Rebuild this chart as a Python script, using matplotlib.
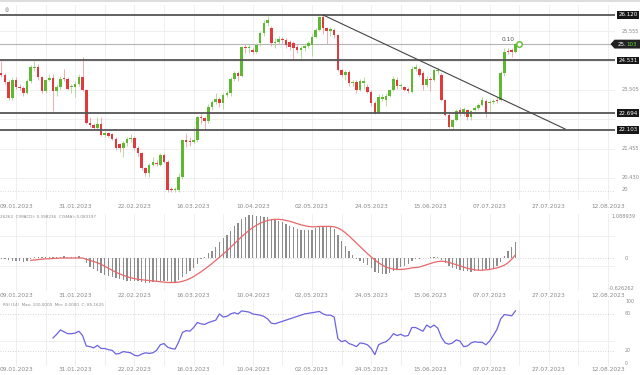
import numpy as np
import pandas as pd
import matplotlib
matplotlib.use('Agg')
import matplotlib.pyplot as plt
from matplotlib.lines import Line2D
from matplotlib.patches import Polygon
import matplotlib.transforms as mtransforms

# trading days shown (weekdays, Good Friday skipped)
dates = pd.bdate_range('2023-01-03', '2023-07-18').drop(pd.Timestamp('2023-04-07'))

opens = [24.10, 24.02, 23.78, 23.21, 23.85, 23.62, 23.58, 23.40, 23.80, 24.28,
         24.30, 23.95, 23.45, 23.85, 23.92, 23.45, 23.62, 23.92, 23.88, 23.60,
         23.62, 23.72, 23.97, 23.50, 22.35, 22.28, 22.17, 22.30, 21.93, 22.00,
         21.95, 21.80, 21.60, 21.47, 21.65, 21.80, 21.82, 21.46, 21.29, 20.76,
         20.59, 20.88, 20.95, 20.88, 21.23, 21.00, 20.05, 20.00, 20.01, 20.47,
         21.75, 21.72, 21.70, 21.75, 22.57, 22.51, 22.40, 22.92, 23.09, 23.17,
         23.04, 23.33, 23.38, 23.87, 24.08, 23.99, 25.00, 24.96, 24.90, 24.84,
         25.13, 25.48, 25.83, 25.65, 25.13, 25.18, 25.27, 25.25, 25.18, 25.13,
         25.01, 24.90, 24.96, 25.04, 25.07, 25.36, 25.60, 26.06, 25.65, 25.57,
         25.60, 25.42, 24.20, 24.03, 24.14, 23.73, 23.79, 23.50, 23.75, 23.62,
         23.44, 23.04, 22.70, 23.20, 23.15, 23.30, 23.50, 23.85, 23.64, 23.60,
         23.52, 23.44, 24.25, 24.25, 24.08, 23.67, 23.90, 23.85, 24.15, 24.03,
         23.15, 22.63, 22.22, 22.45, 22.80, 22.69, 22.80, 22.57, 22.80, 22.86,
         22.98, 23.10, 23.05, 23.09, 23.15, 23.15, 24.08, 24.87, 24.90, 24.84]
highs = [24.52, 24.10, 23.85, 23.95, 23.95, 23.72, 23.65, 23.90, 24.38, 24.53,
         24.40, 24.00, 23.90, 24.05, 24.05, 23.70, 23.98, 24.25, 23.95, 23.70,
         23.80, 24.05, 24.65, 23.55, 22.55, 22.35, 22.55, 22.55, 22.10, 22.05,
         22.00, 21.85, 21.65, 21.72, 21.85, 21.95, 21.90, 21.55, 21.32, 20.80,
         20.95, 21.15, 21.05, 21.30, 21.30, 21.05, 20.10, 20.10, 20.60, 21.80,
         22.00, 21.85, 22.20, 22.60, 22.65, 22.55, 23.00, 23.15, 23.40, 23.25,
         23.40, 23.45, 23.95, 24.15, 24.15, 25.05, 25.10, 25.10, 25.00, 25.13,
         25.55, 25.95, 26.10, 25.75, 25.30, 25.40, 25.35, 25.30, 25.25, 25.20,
         25.10, 25.05, 25.10, 25.20, 25.45, 25.65, 26.10, 26.15, 25.70, 25.70,
         25.65, 25.45, 24.25, 24.20, 24.20, 23.85, 23.85, 23.90, 23.95, 23.70,
         23.50, 23.10, 23.35, 23.35, 23.40, 23.55, 24.00, 23.95, 23.75, 23.65,
         23.60, 24.35, 24.40, 24.30, 24.15, 24.00, 23.95, 24.25, 24.30, 24.10,
         23.20, 22.70, 22.50, 22.85, 22.90, 22.90, 22.85, 22.80, 22.95, 23.05,
         23.25, 23.20, 23.15, 23.20, 23.25, 24.15, 24.95, 24.95, 24.95, 25.15]
lows = [23.95, 23.70, 23.15, 23.15, 23.55, 23.50, 23.30, 23.35, 23.75, 24.15,
        23.85, 23.40, 23.40, 23.80, 22.75, 23.30, 23.55, 23.80, 23.50, 23.40,
        23.25, 23.65, 23.45, 22.30, 22.20, 22.10, 22.10, 21.90, 21.85, 21.85,
        21.75, 21.40, 21.35, 21.17, 21.55, 21.70, 21.40, 21.20, 20.70, 20.50,
        20.45, 20.85, 20.85, 20.85, 20.95, 19.95, 19.92, 19.95, 19.95, 20.40,
        21.50, 21.55, 21.65, 21.70, 22.30, 22.15, 22.35, 22.80, 23.00, 22.90,
        22.85, 23.25, 23.30, 23.80, 23.80, 23.95, 24.80, 24.80, 24.75, 24.80,
        25.05, 25.40, 25.75, 25.05, 24.95, 25.10, 25.10, 24.95, 24.90, 24.55,
        24.80, 24.60, 24.85, 24.95, 24.70, 25.30, 25.55, 25.45, 25.10, 25.40,
        25.30, 24.15, 23.95, 23.85, 23.65, 23.65, 23.40, 23.45, 23.55, 23.38,
        22.95, 22.65, 22.68, 23.10, 22.95, 23.25, 23.45, 23.55, 23.55, 23.45,
        23.40, 23.40, 24.15, 23.95, 23.50, 23.60, 23.45, 23.80, 24.05, 23.10,
        22.60, 22.18, 22.10, 22.40, 22.60, 22.60, 22.45, 22.45, 22.75, 22.80,
        22.95, 22.55, 22.75, 23.00, 23.05, 23.10, 24.00, 24.75, 24.65, 24.80]
closes = [24.02, 23.78, 23.21, 23.85, 23.62, 23.57, 23.40, 23.80, 24.30, 24.30,
          23.95, 23.45, 23.85, 23.92, 23.45, 23.62, 23.90, 23.88, 23.55, 23.62,
          23.72, 23.97, 23.50, 22.35, 22.28, 22.17, 22.30, 21.93, 21.99, 21.90,
          21.80, 21.47, 21.47, 21.65, 21.80, 21.82, 21.46, 21.29, 20.76, 20.59,
          20.88, 21.00, 20.92, 21.23, 21.00, 20.01, 20.00, 20.02, 20.47, 21.75,
          21.70, 21.70, 21.75, 22.55, 22.51, 22.40, 22.92, 23.09, 23.17, 23.04,
          23.33, 23.38, 23.87, 24.08, 23.99, 24.99, 24.96, 25.00, 24.84, 25.07,
          25.48, 25.85, 25.95, 25.13, 25.18, 25.27, 25.25, 25.07, 25.01, 24.96,
          24.90, 24.96, 25.04, 25.13, 25.36, 25.60, 26.06, 25.65, 25.57, 25.62,
          25.42, 24.20, 24.03, 24.14, 23.73, 23.79, 23.50, 23.83, 23.80, 23.44,
          23.04, 22.70, 23.27, 23.27, 23.30, 23.50, 23.90, 23.64, 23.67, 23.50,
          23.48, 24.25, 24.30, 24.02, 23.67, 23.90, 23.85, 24.20, 24.20, 23.15,
          22.63, 22.22, 22.45, 22.75, 22.69, 22.83, 22.57, 22.75, 22.86, 22.98,
          23.15, 22.70, 23.09, 23.12, 23.12, 24.08, 24.84, 24.84, 24.84, 25.10]

macd = [-0.02, -0.03, -0.06, -0.07, -0.07, -0.08, -0.09, -0.08, -0.03, 0.02,
        0.03, 0.02, 0.02, 0.03, 0.02, 0.02, 0.03, 0.04, 0.03, 0.02,
        0.03, 0.04, 0.01, -0.12, -0.22, -0.29, -0.34, -0.38, -0.42, -0.45,
        -0.48, -0.51, -0.54, -0.55, -0.57, -0.58, -0.58, -0.59, -0.61, -0.62,
        -0.62, -0.61, -0.59, -0.58, -0.57, -0.59, -0.62, -0.63, -0.55, -0.47,
        -0.40, -0.34, -0.26, -0.15, -0.03, 0.03, 0.12, 0.19, 0.28, 0.40,
        0.50, 0.58, 0.68, 0.80, 0.88, 1.00, 1.05, 1.08, 1.09, 1.07,
        1.06, 1.05, 1.04, 1.00, 0.96, 0.93, 0.90, 0.86, 0.82, 0.78,
        0.74, 0.72, 0.70, 0.70, 0.72, 0.76, 0.82, 0.82, 0.80, 0.78,
        0.74, 0.58, 0.42, 0.30, 0.18, 0.08, -0.02, -0.08, -0.12, -0.18,
        -0.26, -0.36, -0.38, -0.40, -0.40, -0.38, -0.33, -0.28, -0.24, -0.20,
        -0.16, -0.08, -0.03, -0.02, -0.01, 0.01, 0.02, 0.02, 0.03, -0.05,
        -0.12, -0.21, -0.25, -0.29, -0.31, -0.33, -0.34, -0.36, -0.32, -0.31,
        -0.31, -0.29, -0.28, -0.25, -0.19, -0.10, 0.06, 0.17, 0.27, 0.40]
signal = [np.nan] * 8 + [
        -0.06, -0.05, -0.04, -0.03, -0.02, -0.02, -0.01, -0.01, 0.00, 0.00,
        0.00, 0.00, 0.00, 0.00, 0.00, -0.03, -0.06, -0.09, -0.12, -0.16,
        -0.21, -0.26, -0.31, -0.36, -0.40, -0.44, -0.47, -0.50, -0.52, -0.54,
        -0.55, -0.56, -0.57, -0.58, -0.59, -0.60, -0.61, -0.62, -0.62, -0.62,
        -0.61, -0.59, -0.56, -0.52, -0.47, -0.41, -0.35, -0.28, -0.21, -0.14,
        -0.06, 0.02, 0.10, 0.18, 0.27, 0.36, 0.45, 0.54, 0.62, 0.70,
        0.77, 0.83, 0.88, 0.92, 0.95, 0.97, 0.98, 0.98, 0.97, 0.95,
        0.93, 0.90, 0.87, 0.84, 0.82, 0.80, 0.79, 0.79, 0.80, 0.80,
        0.80, 0.80, 0.79, 0.76, 0.71, 0.64, 0.56, 0.47, 0.38, 0.29,
        0.20, 0.11, 0.03, -0.05, -0.12, -0.18, -0.23, -0.26, -0.28, -0.29,
        -0.29, -0.28, -0.27, -0.25, -0.24, -0.23, -0.20, -0.17, -0.14, -0.11,
        -0.09, -0.08, -0.09, -0.11, -0.14, -0.17, -0.20, -0.23, -0.26, -0.28,
        -0.30, -0.31, -0.31, -0.30, -0.29, -0.27, -0.25, -0.22, -0.18, -0.12,
        -0.03, 0.08]
rsi = [np.nan] * 14 + [
        41, 47, 54, 51, 48, 48, 49, 52, 45, 28,
        27, 25, 29, 24, 24, 22, 21, 15, 16, 19,
        18, 17, 13, 12, 15, 17, 16, 17, 21, 30,
        32, 26, 24, 23, 35, 50, 53, 52, 58, 66,
        64, 63, 66, 68, 70, 80, 75, 76, 80, 82,
        80, 85, 84, 83, 80, 79, 78, 76, 72, 65,
        64, 66, 68, 70, 72, 74, 76, 78, 80, 81,
        82, 83, 84, 80, 78, 78, 75, 40, 35, 37,
        32, 30, 27, 33, 32, 30, 24, 14, 30, 33,
        35, 40, 48, 45, 47, 44, 45, 58, 58, 55,
        52, 62, 58, 62, 57, 42, 33, 31, 33, 38,
        36, 27, 28, 33, 35, 34, 34, 30, 36, 45,
        55, 72, 79, 78, 77, 85]

levels = [26.120, 24.531, 22.694, 22.103]
price_ticks = [25.555, 23.505, 21.455, 20.430]
price_grid = [25.555, 24.530, 23.505, 22.480, 21.455, 20.430]
last_price = 25.103
tick_labels = ['09.01.2023', '31.01.2023', '22.02.2023', '16.03.2023', '10.04.2023',
               '02.05.2023', '24.05.2023', '15.06.2023', '07.07.2023', '27.07.2023',
               '12.08.2023']
trend_start = (87, 26.12)
trend_end = (152.4, 22.14)

GREEN = '#5fb832'
RED = '#e0393e'
GRID = '#ececec'
TXT = '#8a8a8a'
FS = 4.2

n = len(closes)
x = np.arange(n)
tick_pos = [list(dates).index(pd.Timestamp('2023-01-09')) + 16 * k for k in range(len(tick_labels))]
xmin, xmax = -0.32, 165.9
AXW = 615.0  # axes width in pixels

fig = plt.figure(figsize=(6.4, 3.75), dpi=100)
ax = fig.add_axes([0, 1 - 200 / 375, AXW / 640, 195 / 375])
ax_m = fig.add_axes([0, 1 - 291 / 375, AXW / 640, 77 / 375])
ax_r = fig.add_axes([0, 1 - 366 / 375, AXW / 640, 66 / 375])


def px(p):
    # pixel x (from figure left) -> axes fraction
    return p / AXW


for a, pad in ((ax, 3.0), (ax_m, 1.2), (ax_r, 0.6)):
    a.set_xlim(xmin, xmax)
    for s in a.spines.values():
        s.set_visible(False)
    a.set_yticks([])
    a.set_xticks(tick_pos)
    a.set_xticklabels(tick_labels)
    a.tick_params(axis='x', length=0, labelsize=FS, labelcolor=TXT, pad=pad)
    for k in range(-1, 21):
        a.axvline(tick_pos[0] + 8 * k, color=GRID, lw=0.6, zorder=0)

# ---- price panel
ax.set_ylim(19.658, 26.469)
for g in price_grid:
    ax.axhline(g, color=GRID, lw=0.6, zorder=0)
ax.axhline(19.97, color='#cfcfcf', lw=0.6, ls=(0, (1, 2)), zorder=0)

o = np.array(opens); c = np.array(closes); h = np.array(highs); l = np.array(lows)
up = c >= o
ax.vlines(x[up], l[up], h[up], color='#a8d88c', lw=0.6, zorder=2)
ax.vlines(x[~up], l[~up], h[~up], color='#f0a0a2', lw=0.6, zorder=2)
body = np.maximum(np.abs(c - o), 0.03)
ax.bar(x[up], body[up], bottom=np.minimum(o, c)[up], width=0.7, color=GREEN, lw=0, zorder=3)
ax.bar(x[~up], body[~up], bottom=np.minimum(o, c)[~up], width=0.7, color=RED, lw=0, zorder=3)

for lv in levels:
    ax.axhline(lv, color='#555555', lw=1.3, zorder=4)
ax.axhline(last_price, color='#b5b5b5', lw=0.8, zorder=1)
ax.plot([trend_start[0], trend_end[0]], [trend_start[1], trend_end[1]], color='#444444', lw=0.8, zorder=5)
ax.plot(n - 0.1, last_price, 'o', ms=4, mfc='white', mec=GREEN, mew=1.0, zorder=6)
ax.text(n - 3.0, last_price + 0.07, '0.10', fontsize=FS, color='#555555', ha='center', va='bottom', zorder=6)

tr = mtransforms.blended_transform_factory(ax.transAxes, ax.transData)
for lv in levels:
    ax.text(px(618.5), lv, f'{lv:.3f}', transform=tr, fontsize=4.0, color='white', ha='left', va='center',
            bbox=dict(boxstyle='square,pad=0.2', fc='#161616', ec='none'), clip_on=False)
for t in price_ticks:
    ax.text(px(621.5), t, f'{t:.3f}', transform=tr, fontsize=3.7, color=TXT, ha='left', va='center', clip_on=False)
ax.text(px(621.5), 20.03, '20', transform=tr, fontsize=3.7, color=TXT, ha='left', va='center', clip_on=False)

# current price tag with left-pointing notch
hh = 0.155
tag = Polygon([(px(610.5), last_price), (px(614.5), last_price + hh), (px(640), last_price + hh),
               (px(640), last_price - hh), (px(614.5), last_price - hh)],
              closed=True, transform=tr, fc='#222222', ec='none', clip_on=False, zorder=7)
ax.add_patch(tag)
ax.text(px(617.5), last_price, '25.', transform=tr, fontsize=4.0, color='white', ha='left', va='center',
        clip_on=False, zorder=8)
ax.text(px(626.3), last_price, '103', transform=tr, fontsize=4.0, color='#6ad23a', ha='left', va='center',
        clip_on=False, zorder=8)

fig.text(7 / 640, 1 - 10 / 375, '\u25ce', fontsize=3.5, color='#666666', ha='center', va='center')
fig.add_artist(Line2D([0, 1], [1 - 1 / 375, 1 - 1 / 375], transform=fig.transFigure, color='#dddddd', lw=1.5))

# ---- MACD panel
ax_m.set_ylim(-0.835, 1.114)
for g in (0.557, -0.2):
    ax_m.axhline(g, color=GRID, lw=0.6, zorder=0)
ax_m.axhline(0, color='#c8c8c8', lw=0.6, ls=(0, (1, 2)), zorder=0)
ax_m.bar(x, macd, width=0.35, color='#8d8d8d', lw=0, zorder=2)
ax_m.plot(x, signal, color='#e8676b', lw=0.9, zorder=3)
trm = mtransforms.blended_transform_factory(ax_m.transAxes, ax_m.transData)
ax_m.text(px(611), 1.06, '1.088939', transform=trm, fontsize=3.6, color=TXT, ha='left', va='center', clip_on=False)
ax_m.text(px(625), 0.0, '0', transform=trm, fontsize=3.6, color=TXT, ha='left', va='center', clip_on=False)
ax_m.text(px(609), -0.77, '-0.626262', transform=trm, fontsize=3.6, color=TXT, ha='left', va='center', clip_on=False)
ax_m.text(0.0, 0.96, '26262  C(MACD): 0.398236  C(SMA): 0.083197', transform=ax_m.transAxes,
          fontsize=3.0, color=TXT, ha='left', va='center')

# ---- RSI panel
ax_r.set_ylim(-4.4, 102.6)
ax_r.axhline(36, color=GRID, lw=0.6, zorder=0)
for g in (80, 20):
    ax_r.axhline(g, color='#c8c8c8', lw=0.6, ls=(0, (1, 2)), zorder=0)
ax_r.plot(x, rsi, color='#6b63e0', lw=0.9, zorder=3)
trr = mtransforms.blended_transform_factory(ax_r.transAxes, ax_r.transData)
for v in (100, 80, 20, 0):
    ax_r.text(px(625), v, str(v), transform=trr, fontsize=3.4, color=TXT, ha='left', va='center', clip_on=False)
ax_r.text(px(3), 0.92, 'RSI (14)  Max: 100.0000  Min: 0.0000  C: 85.1625', transform=ax_r.transAxes,
          fontsize=3.0, color=TXT, ha='left', va='center')

fig.savefig('out.png', dpi=100)
